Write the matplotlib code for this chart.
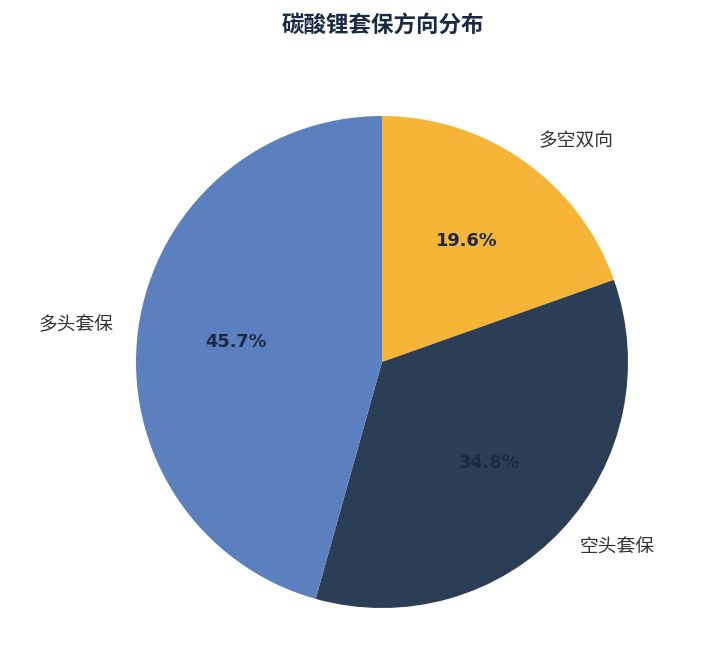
import matplotlib
matplotlib.use("Agg")
import matplotlib.pyplot as plt

plt.rcParams['font.family'] = ['Noto Sans CJK SC', 'DejaVu Sans']

# Data
labels = ['多空双向', '空头套保', '多头套保']
shares = [19.6, 34.8, 45.7]
colors = ['#F6B537', '#2C3E56', '#5B80BD']

fig = plt.figure(figsize=(7.11, 6.45), dpi=100)
ax = fig.add_axes([0, 0, 1, 1])

wedges, texts, autotexts = ax.pie(
    shares, labels=labels, colors=colors, startangle=90, counterclock=False,
    autopct='%1.1f%%', pctdistance=0.6, labeldistance=1.1,
    textprops={'fontsize': 13.5, 'color': '#333333'})

for t in autotexts:
    t.set_fontsize(12.8)
    t.set_fontweight('bold')
    t.set_color('#1B2A44')
    t.set_family('DejaVu Sans')

# center (382, 362) px, radius 246 px
ax.set_aspect('auto')
ax.set_xlim(-382 / 246, (711 - 382) / 246)
ax.set_ylim(-(645 - 362) / 246, 362 / 246)
ax.axis('off')

fig.text(383 / 711, 1 - 25 / 645, '碳酸锂套保方向分布', ha='center', va='center',
         fontsize=16.2, fontweight='bold', color='#1B2A44')

fig.savefig('out.png', dpi=100)
